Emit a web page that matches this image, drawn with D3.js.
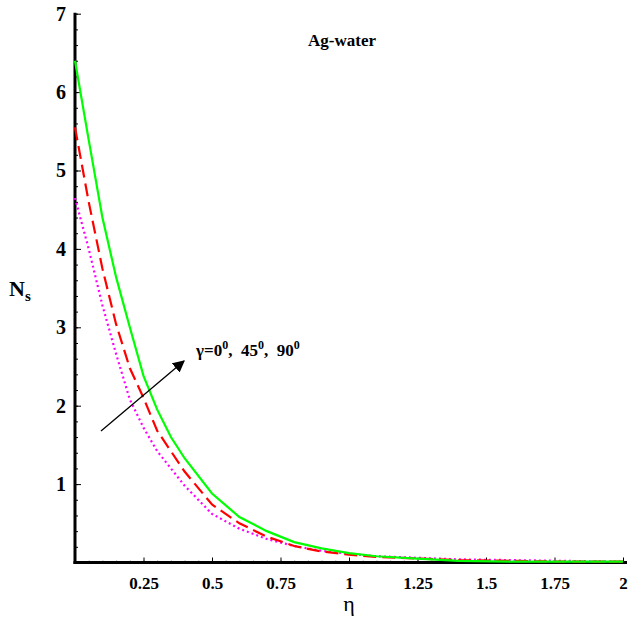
<!DOCTYPE html>
<html>
<head>
<meta charset="utf-8">
<script src="https://cdn.jsdelivr.net/npm/d3@7"></script>
<style>
  body { margin: 0; background: #fff; }
  svg text { font-family: "Liberation Serif", "DejaVu Serif", serif; }
</style>
</head>
<body>
<div id="chart"></div>
<script>
// eta grid shared by all curves
var eta = [0, 0.05, 0.1, 0.15, 0.2, 0.25, 0.3, 0.35, 0.4, 0.5, 0.6, 0.7, 0.8, 0.9, 1.0, 1.1, 1.25, 1.4, 1.6, 1.8, 2.0];
// Ns for gamma = 90 (green, solid)
var ns90 = [6.4, 5.39, 4.4, 3.64, 3.0, 2.38, 1.95, 1.6, 1.33, 0.88, 0.58, 0.40, 0.26, 0.18, 0.12, 0.08, 0.05, 0.02, 0.01, 0.01, 0.01];
// gamma = 45 (red, dashed)
var ns45 = [5.55, 4.6, 3.75, 3.04, 2.48, 2.1, 1.68, 1.42, 1.16, 0.74, 0.5, 0.33, 0.21, 0.14, 0.10, 0.07, 0.05, 0.03, 0.02, 0.01, 0.01];
// gamma = 0 (magenta, dotted)
var ns0 = [4.65, 4.0, 3.28, 2.66, 2.08, 1.72, 1.42, 1.2, 0.98, 0.62, 0.43, 0.3, 0.21, 0.15, 0.11, 0.08, 0.06, 0.04, 0.03, 0.02, 0.01];
var xTicks = [0.25, 0.5, 0.75, 1, 1.25, 1.5, 1.75, 2];
var yTicks = [1, 2, 3, 4, 5, 6, 7];

var width = 629, height = 627;

var x = d3.scaleLinear().domain([0, 2]).range([75, 623]);
var y = d3.scaleLinear().domain([0, 7]).range([562.5, 13.7]);

var svg = d3.select("#chart").append("svg")
  .attr("width", width)
  .attr("height", height);

// minor ticks, inward
svg.append("g")
  .attr("transform", "translate(" + x(0) + ",0)")
  .call(d3.axisRight(y).tickValues(d3.range(0, 7.01, 0.2)).tickSize(3).tickFormat(""))
  .call(function(g) { g.select(".domain").remove(); });

svg.append("g")
  .attr("transform", "translate(0," + y(0) + ")")
  .call(d3.axisTop(x).tickValues(d3.range(0, 2.01, 0.05)).tickSize(2).tickFormat(""))
  .call(function(g) { g.select(".domain").remove(); g.selectAll("line").attr("stroke", "#888"); });

// major ticks + labels
var yAxis = svg.append("g")
  .attr("transform", "translate(" + x(0) + ",0)")
  .call(d3.axisRight(y).tickValues(yTicks).tickSize(6).tickFormat(d3.format("d")));
yAxis.select(".domain").remove();
yAxis.selectAll("text")
  .attr("x", -9)
  .attr("text-anchor", "end")
  .style("font-size", "20px")
  .style("font-weight", "bold");

var xAxis = svg.append("g")
  .attr("transform", "translate(0," + y(0) + ")")
  .call(d3.axisTop(x).tickValues(xTicks).tickSize(5).tickFormat(function(d) { return String(d); }));
xAxis.select(".domain").remove();
xAxis.selectAll("text")
  .attr("y", 26)
  .style("font-size", "17px")
  .style("font-weight", "bold");

// axis lines
svg.append("line")
  .attr("x1", x(0)).attr("x2", x(0))
  .attr("y1", y(7) - 1).attr("y2", y(0) + 1.5)
  .attr("stroke", "#000").attr("stroke-width", 3);
svg.append("line")
  .attr("x1", x(0) - 1.5).attr("x2", 627)
  .attr("y1", y(0)).attr("y2", y(0))
  .attr("stroke", "#000").attr("stroke-width", 3);

var line = d3.line()
  .x(function(d) { return x(d[0]); })
  .y(function(d) { return y(d[1]); });

var series = [
  { v: ns0, color: "#ff00ff", dash: "2,3", w: 2.2 },
  { v: ns45, color: "#ff0000", dash: "13,6", w: 2.2 },
  { v: ns90, color: "#00ff00", dash: null, w: 2.2 }
];

series.forEach(function(s) {
  svg.append("path")
    .datum(eta.map(function(e, i) { return [e, s.v[i]]; }))
    .attr("fill", "none")
    .attr("stroke", s.color)
    .attr("stroke-width", s.w)
    .attr("stroke-dasharray", s.dash)
    .attr("d", line);
});

// arrow
svg.append("defs").append("marker")
  .attr("id", "head")
  .attr("viewBox", "0 0 10 10")
  .attr("refX", 9).attr("refY", 5)
  .attr("markerWidth", 12).attr("markerHeight", 12)
  .attr("markerUnits", "userSpaceOnUse")
  .attr("orient", "auto")
  .append("path")
  .attr("d", "M0,0 L10,5 L0,10 Z")
  .attr("fill", "#000");

svg.append("line")
  .attr("x1", 101).attr("y1", 431)
  .attr("x2", 184).attr("y2", 361)
  .attr("stroke", "#000").attr("stroke-width", 1.3)
  .attr("marker-end", "url(#head)");

var lab = svg.append("text")
  .attr("x", 196).attr("y", 356)
  .style("font-size", "17px")
  .style("font-weight", "bold");
[["γ=0", "0", ",\u00a0\u00a0"], ["45", "0", ",\u00a0\u00a0"], ["90", "0", ""]].forEach(function(p) {
  lab.append("tspan").text(p[0]);
  lab.append("tspan").attr("dy", -7).style("font-size", "12px").text(p[1]);
  lab.append("tspan").attr("dy", 7).text(p[2]);
});

// title
svg.append("text")
  .attr("x", 342).attr("y", 46)
  .attr("text-anchor", "middle")
  .style("font-size", "17px")
  .style("font-weight", "bold")
  .text("Ag-water");

// axis titles
var yl = svg.append("text")
  .attr("x", 9).attr("y", 296)
  .style("font-size", "22px")
  .style("font-weight", "bold");
yl.append("tspan").text("N");
yl.append("tspan").attr("dy", 5).style("font-size", "15px").text("s");

svg.append("text")
  .attr("x", 349).attr("y", 611)
  .attr("text-anchor", "middle")
  .style("font-size", "22px")
  .text("η");
</script>
</body>
</html>
